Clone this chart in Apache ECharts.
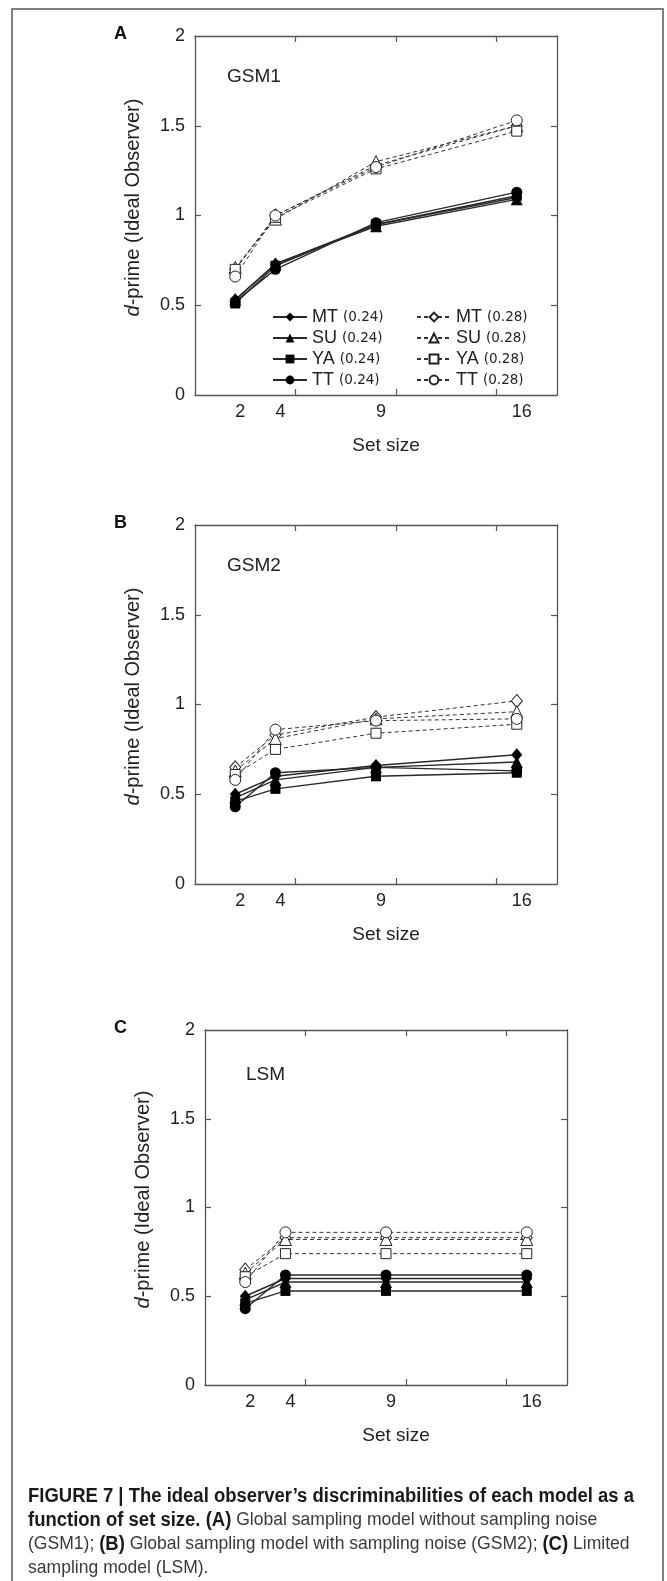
<!DOCTYPE html>
<html>
<head>
<meta charset="utf-8">
<title>Figure 7</title>
<script src="https://cdn.jsdelivr.net/npm/echarts@6.0.0/dist/echarts.min.js"></script>
<style>
  html, body { margin: 0; padding: 0; background: #fff; }
  #main { width: 667px; height: 1581px; }
</style>
</head>
<body>
<div id="main"></div>
<script>
// x positions of the data points
const setSizes = [2, 4, 9, 16];
const subjects = ['MT', 'SU', 'YA', 'TT'];
const markers = ['diamond', 'triangle', 'rect', 'circle'];
const yTicks = [0.5, 1, 1.5];
const xTicks = [5, 10, 15];

// rows follow subjects: MT, SU, YA, TT
const gsm1Low = [
  [0.53, 0.73, 0.95, 1.10],
  [0.53, 0.73, 0.94, 1.09],
  [0.51, 0.72, 0.95, 1.11],
  [0.52, 0.70, 0.96, 1.13]
];
const gsm1High = [
  [0.70, 1.00, 1.28, 1.50],
  [0.71, 0.98, 1.30, 1.50],
  [0.70, 0.99, 1.26, 1.47],
  [0.66, 1.00, 1.27, 1.53]
];
const gsm2Low = [
  [0.50, 0.60, 0.66, 0.72],
  [0.48, 0.58, 0.65, 0.68],
  [0.46, 0.53, 0.60, 0.62],
  [0.43, 0.62, 0.65, 0.63]
];
const gsm2High = [
  [0.65, 0.83, 0.93, 1.02],
  [0.63, 0.81, 0.92, 0.96],
  [0.61, 0.75, 0.84, 0.89],
  [0.58, 0.86, 0.91, 0.92]
];
const lsmLow = [
  [0.50, 0.60, 0.60, 0.60],
  [0.48, 0.58, 0.58, 0.58],
  [0.46, 0.53, 0.53, 0.53],
  [0.43, 0.62, 0.62, 0.62]
];
const lsmHigh = [
  [0.65, 0.83, 0.83, 0.83],
  [0.63, 0.82, 0.82, 0.82],
  [0.61, 0.74, 0.74, 0.74],
  [0.58, 0.86, 0.86, 0.86]
];

const FONT = "'Liberation Sans', Arial, sans-serif";
const axisColor = '#555';
const textColor = '#222';

const panels = [
  { letter: 'A', tag: 'GSM1', low: gsm1Low, high: gsm1High, left: 195, top: 36, height: 359, tagX: 227 },
  { letter: 'B', tag: 'GSM2', low: gsm2Low, high: gsm2High, left: 195, top: 525, height: 359, tagX: 227 },
  { letter: 'C', tag: 'LSM', low: lsmLow, high: lsmHigh, left: 205, top: 1030, height: 355, tagX: 246 }
];

const symbolSize = { diamond: [11, 13], triangle: 12, rect: 10, circle: 11 };

const grid = [], xAxis = [], yAxis = [], series = [], graphic = [];
const tickStyle = { color: axisColor, width: 1.2 };
const lineStyleAxis = { color: axisColor, width: 1.3 };

panels.forEach((p, g) => {
  grid.push({ left: p.left, top: p.top, width: 362, height: p.height });

  xAxis.push({
    type: 'value', gridIndex: g, min: 0, max: 18, position: 'bottom',
    axisLine: { show: true, onZero: false, lineStyle: lineStyleAxis },
    axisTick: { show: true, inside: true, length: 6, customValues: xTicks, lineStyle: tickStyle },
    axisLabel: { customValues: setSizes, margin: 8, fontSize: 18, fontFamily: FONT, color: textColor, padding: [0, 0, 0, 10] },
    splitLine: { show: false },
    name: 'Set size', nameLocation: 'middle', nameGap: 41,
    nameTextStyle: { fontSize: 19, fontFamily: FONT, color: textColor, padding: [0, 0, 0, 20] }
  });
  xAxis.push({
    type: 'value', gridIndex: g, min: 0, max: 18, position: 'top',
    axisLine: { show: true, onZero: false, lineStyle: lineStyleAxis },
    axisTick: { show: true, inside: true, length: 6, customValues: xTicks, lineStyle: tickStyle },
    axisLabel: { show: false }, splitLine: { show: false }
  });

  yAxis.push({
    type: 'value', gridIndex: g, min: 0, max: 2, interval: 0.5, position: 'left',
    axisLine: { show: true, onZero: false, lineStyle: lineStyleAxis },
    axisTick: { show: true, inside: true, length: 6, customValues: yTicks, lineStyle: tickStyle },
    axisLabel: { margin: 10, fontSize: 18, fontFamily: FONT, color: textColor },
    splitLine: { show: false },
    name: '{i|d}-prime (Ideal Observer)', nameLocation: 'middle', nameGap: 52, nameRotate: 90,
    nameTextStyle: {
      fontSize: 20, fontFamily: FONT, color: textColor, padding: [0, 0, 0, 16],
      rich: { i: { fontStyle: 'italic', fontSize: 20, fontFamily: FONT, color: textColor } }
    }
  });
  yAxis.push({
    type: 'value', gridIndex: g, min: 0, max: 2, interval: 0.5, position: 'right',
    axisLine: { show: true, onZero: false, lineStyle: lineStyleAxis },
    axisTick: { show: true, inside: true, length: 6, customValues: yTicks, lineStyle: tickStyle },
    axisLabel: { show: false }, splitLine: { show: false }
  });

  subjects.forEach((s, k) => {
    series.push({
      name: s + ' (0.28)', type: 'line', xAxisIndex: g * 2, yAxisIndex: g * 2,
      data: setSizes.map((x, i) => [x, p.high[k][i]]),
      symbol: markers[k], symbolSize: symbolSize[markers[k]],
      showSymbol: true,
      lineStyle: { color: '#333', width: 1, type: [4, 3] },
      itemStyle: { color: '#fff', borderColor: '#222', borderWidth: 1 },
      emphasis: { disabled: true }, animation: false, z: 2
    });
  });
  subjects.forEach((s, k) => {
    series.push({
      name: s + ' (0.24)', type: 'line', xAxisIndex: g * 2, yAxisIndex: g * 2,
      data: setSizes.map((x, i) => [x, p.low[k][i]]),
      symbol: markers[k], symbolSize: symbolSize[markers[k]],
      showSymbol: true,
      lineStyle: { color: '#2a2a2a', width: 1.4 },
      itemStyle: { color: '#000', borderColor: '#000', borderWidth: 0 },
      emphasis: { disabled: true }, animation: false, z: 3
    });
  });

  graphic.push({
    type: 'text', left: 114, top: p.top - 11,
    style: { text: p.letter, font: 'bold 18px ' + FONT, fill: '#111' }
  });
  graphic.push({
    type: 'text', left: p.tagX, top: p.top + 31 + (g === 2 ? 4 : 0),
    style: { text: p.tag, font: '19px ' + FONT, fill: textColor }
  });
});

const legendText = {
  fontSize: 18, fontFamily: FONT, color: textColor, lineHeight: 18,
  rich: {
    a: { fontSize: 18, fontFamily: FONT, color: textColor, lineHeight: 18 },
    b: { fontSize: 13.5, fontFamily: "'DejaVu Sans', sans-serif", color: textColor, lineHeight: 18 }
  }
};
const legendFmt = name => {
  const parts = name.split(' ');
  return '{a|' + parts[0] + '} {b|' + parts[1] + '}';
};

// caption (condensed look via horizontal scaling)
const capBold = { fontWeight: 'bold', fontSize: 20, fontFamily: FONT, fill: '#1a1a1a' };
const capReg = { fontSize: 19, fontFamily: FONT, fill: '#3a3a3a' };
const captionLines = [
  '{b|FIGURE 7 | The ideal observer’s discriminabilities of each model as a}',
  '{b|function of set size. (A)}{r| Global sampling model without sampling noise}',
  '{r|(GSM1); }{b|(B)}{r| Global sampling model with sampling noise (GSM2); }{b|(C)}{r| Limited}',
  '{r|sampling model (LSM).}'
];
captionLines.forEach((t, i) => {
  graphic.push({
    type: 'text', x: 28, y: 1496 + i * 24, scaleX: 0.924,
    style: { text: t, verticalAlign: 'middle', rich: { b: capBold, r: capReg } }
  });
});

// outer frame
graphic.push({
  type: 'rect', shape: { x: 12, y: 9, width: 651, height: 1640 },
  style: { fill: 'none', stroke: '#555', lineWidth: 1.5 }, silent: true
});

const option = {
  backgroundColor: '#fff',
  animation: false,
  grid: grid,
  xAxis: xAxis,
  yAxis: yAxis,
  legend: [
    {
      orient: 'vertical', left: 267, top: 303, itemWidth: 34, itemHeight: 11, itemGap: 3,
      data: subjects.map(s => s + ' (0.24)'), formatter: legendFmt, textStyle: legendText,
      selectedMode: false
    },
    {
      orient: 'vertical', left: 411, top: 303, itemWidth: 34, itemHeight: 11, itemGap: 3,
      data: subjects.map(s => s + ' (0.28)'), formatter: legendFmt, textStyle: legendText,
      selectedMode: false
    }
  ],
  series: series,
  graphic: graphic
};

const chart = echarts.init(document.getElementById('main'));
chart.setOption(option);
</script>
</body>
</html>
